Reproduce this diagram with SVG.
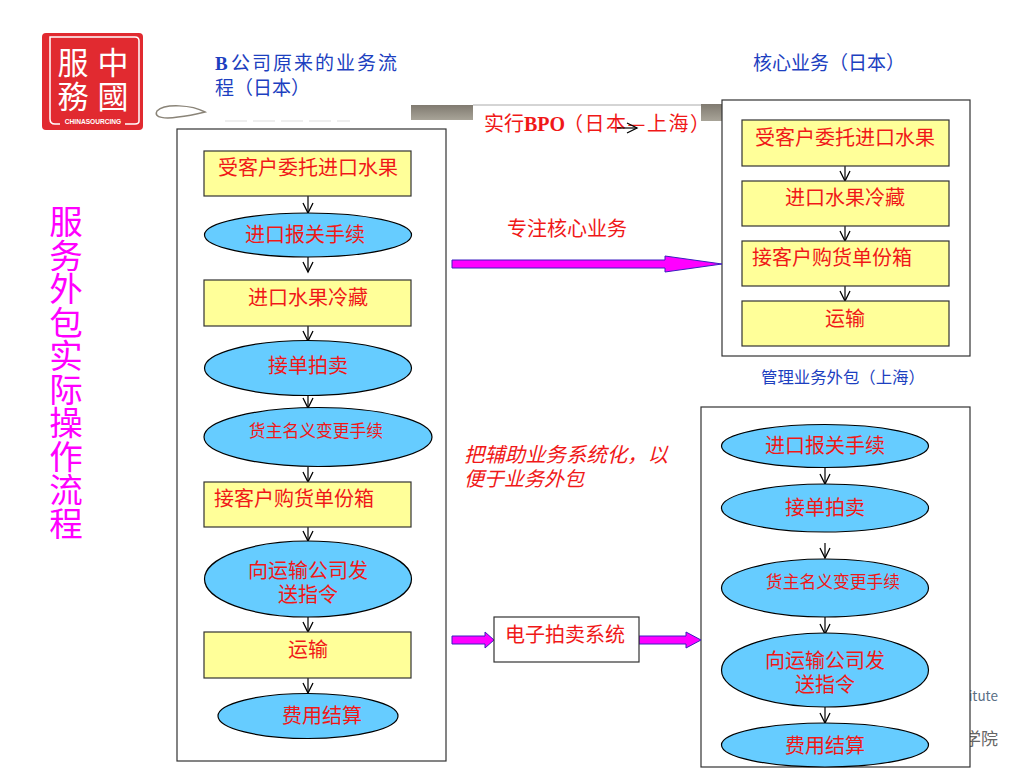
<svg xmlns="http://www.w3.org/2000/svg" width="1024" height="768" viewBox="0 0 1024 768">
<defs>
<marker id="open" markerUnits="userSpaceOnUse" markerWidth="14" markerHeight="14" refX="11" refY="6" orient="auto"><path d="M1 1L11 6L1 11" fill="none" stroke="#000" stroke-width="1.3"/></marker>
<linearGradient id="bar" x1="0" y1="0" x2="0" y2="1"><stop offset="0" stop-color="#807a70"/><stop offset="1" stop-color="#a8a498"/></linearGradient>
</defs>
<style>
text{font-family:"Noto Sans CJK SC","Liberation Sans",sans-serif}
.box{fill:#ffff99;stroke:#333;stroke-width:1.2}
.ell{fill:#66ccff;stroke:#000;stroke-width:1.2}
.panel{fill:#fff;stroke:#333;stroke-width:1.2}
.t{fill:#f01818;font-size:20px;text-anchor:middle}
.s{font-size:16.8px}
.blue{fill:#1d3fc0;font-size:19px}
.fat{fill:#ff00ff;stroke:#3a1fc0;stroke-width:1}
.c{stroke:#000;stroke-width:1.2;fill:none;marker-end:url(#open)}
.l{font-family:"Liberation Serif","Noto Sans CJK SC",serif;font-weight:bold}
</style>
<g id="watermark" fill="#5a6f85" font-size="13.5px">
<text x="998" y="701" text-anchor="end">itute</text>
<text x="998" y="745" text-anchor="end" fill="#666" font-size="17px">学院</text>
</g>
<g id="logo">
<rect x="42" y="33" width="101" height="97" rx="4" fill="#e12a30"/>
<path d="M50 41V37H135Q139 37 139 41V121Q139 124 135 124H125M50 41V119Q50 124 55 124H60M108 37H60" fill="none" stroke="#fff" stroke-width="1.5"/>
<text fill="#fff" font-size="31px" text-anchor="middle"><tspan x="73" y="74">服</tspan><tspan x="113" y="74">中</tspan><tspan x="73" y="108">務</tspan><tspan x="113" y="108">國</tspan></text>
<text x="93" y="124" fill="#fff" font-size="6.6px" font-weight="bold" text-anchor="middle" style="font-family:'Liberation Sans',sans-serif">CHINASOURCING</text>
</g>
<g id="decor">
<path d="M205 112C192 105 165 103 157 111C153 118 166 119 178 117C188 116 197 114 205 112Z" fill="#fff" stroke="#8a8478" stroke-width="1.5"/>
<path d="M225 121H350" stroke="#ddd" stroke-width="1" stroke-dasharray="22 6"/>
<rect x="411" y="105" width="62" height="15" fill="url(#bar)"/>
<rect x="701" y="104" width="21" height="17" fill="url(#bar)"/>
<path d="M473 105H701" stroke="#aaa" stroke-width="1"/>
</g>
<g id="title">
<text x="66" y="205" fill="#ff00ff" font-size="33.500px" style="writing-mode:vertical-rl">服务外包实际操作流程</text>
</g>
<g id="labels">
<text class="blue"><tspan class="l" x="215" y="70">B</tspan><tspan x="231" y="70" letter-spacing="2">公司原来的业务流</tspan><tspan x="215" y="95">程（日本）</tspan></text>
<text class="blue" x="753" y="70">核心业务（日本）</text>
<text class="blue" x="761" y="383" style="font-size:16.400px">管理业务外包（上海）</text>
<text x="484" y="131" fill="#f01818" font-size="20px">实行<tspan class="l">BPO</tspan><tspan x="563" letter-spacing="1.500">（日本—上海）</tspan></text>
<text x="507" y="236" fill="#f01818" font-size="20px">专注核心业务</text>
<text fill="#f01818" font-size="20.400px" font-style="italic"><tspan x="464" y="462">把辅助业务系统化，以</tspan><tspan x="464" y="486" font-size="20px">便于业务外包</tspan></text>
</g>
<g id="panels">
<rect id="panel-left" class="panel" x="177" y="129" width="269" height="632"/>
<rect id="panel-top" class="panel" x="722" y="100" width="248" height="256"/>
<rect id="panel-bottom" class="panel" x="701" y="407" width="269" height="360"/>
</g>
<g id="connectors">
<path class="c" d="M308 196V213"/><path class="c" d="M308 257V272"/><path class="c" d="M308 326V341"/><path class="c" d="M308 396V408"/><path class="c" d="M308 467V482"/><path class="c" d="M308 527V541"/><path class="c" d="M308 617V632"/><path class="c" d="M308 678V693"/>
<path class="c" d="M845 166V181"/><path class="c" d="M845 226V241"/><path class="c" d="M845 286V301"/>
<path class="c" d="M825 467V484"/><path class="c" d="M825 543V558"/><path class="c" d="M825 617V634"/><path class="c" d="M825 707V723"/>
<path class="c" d="M617 128H637"/>
<path class="fat" d="M452 260H665V256L722 264L665 272V268H452Z"/>
<path class="fat" d="M452 636H485V632L494 640L485 648V644H452Z"/>
<path class="fat" d="M639 636H686V632L701 640L686 648V644H639Z"/>
</g>
<g id="n1"><rect class="box" x="204" y="151" width="207" height="45"/><text class="t" x="308" y="175">受客户委托进口水果</text></g>
<g id="n2"><ellipse class="ell" cx="308" cy="235" rx="103.500" ry="22"/><text class="t" x="305" y="242">进口报关手续</text></g>
<g id="n3"><rect class="box" x="204" y="280" width="207" height="46"/><text class="t" x="308" y="305">进口水果冷藏</text></g>
<g id="n4"><ellipse class="ell" cx="308" cy="368" rx="103.500" ry="27.500"/><text class="t" x="308" y="373">接单拍卖</text></g>
<g id="n5"><ellipse class="ell" cx="318" cy="437" rx="114" ry="29.500"/><text class="t s" x="316" y="437">货主名义变更手续</text></g>
<g id="n6"><rect class="box" x="204" y="482" width="207" height="45"/><text class="t" x="294" y="506">接客户购货单份箱</text></g>
<g id="n7"><ellipse class="ell" cx="308" cy="579" rx="103.500" ry="38"/><text class="t"><tspan x="308" y="578">向运输公司发</tspan><tspan x="308" y="602">送指令</tspan></text></g>
<g id="n8"><rect class="box" x="204" y="632" width="207" height="46"/><text class="t" x="308" y="657">运输</text></g>
<g id="n9"><ellipse class="ell" cx="308" cy="716" rx="90" ry="22.500"/><text class="t" x="322" y="723">费用结算</text></g>
<g id="r1"><rect class="box" x="742" y="120" width="207" height="46"/><text class="t" x="845" y="145">受客户委托进口水果</text></g>
<g id="r2"><rect class="box" x="742" y="181" width="207" height="45"/><text class="t" x="845" y="205">进口水果冷藏</text></g>
<g id="r3"><rect class="box" x="742" y="241" width="207" height="45"/><text class="t" x="832" y="265">接客户购货单份箱</text></g>
<g id="r4"><rect class="box" x="742" y="301" width="207" height="45"/><text class="t" x="845" y="326">运输</text></g>
<g id="b1"><ellipse class="ell" cx="825" cy="446" rx="103.500" ry="21.500"/><text class="t" x="825" y="453">进口报关手续</text></g>
<g id="b2"><ellipse class="ell" cx="825" cy="508" rx="103.500" ry="24"/><text class="t" x="825" y="515">接单拍卖</text></g>
<g id="b3"><ellipse class="ell" cx="825" cy="588" rx="103.500" ry="29"/><text class="t s" x="833" y="588">货主名义变更手续</text></g>
<g id="b4"><ellipse class="ell" cx="825" cy="670" rx="103.500" ry="37"/><text class="t"><tspan x="825" y="668">向运输公司发</tspan><tspan x="825" y="692">送指令</tspan></text></g>
<g id="b5"><ellipse class="ell" cx="825" cy="745" rx="103.500" ry="22"/><text class="t" x="825" y="753">费用结算</text></g>
<g id="sys"><rect x="494" y="617" width="145" height="45" fill="#fff" stroke="#333" stroke-width="1.2"/><text class="t" x="565" y="642">电子拍卖系统</text></g>
</svg>
